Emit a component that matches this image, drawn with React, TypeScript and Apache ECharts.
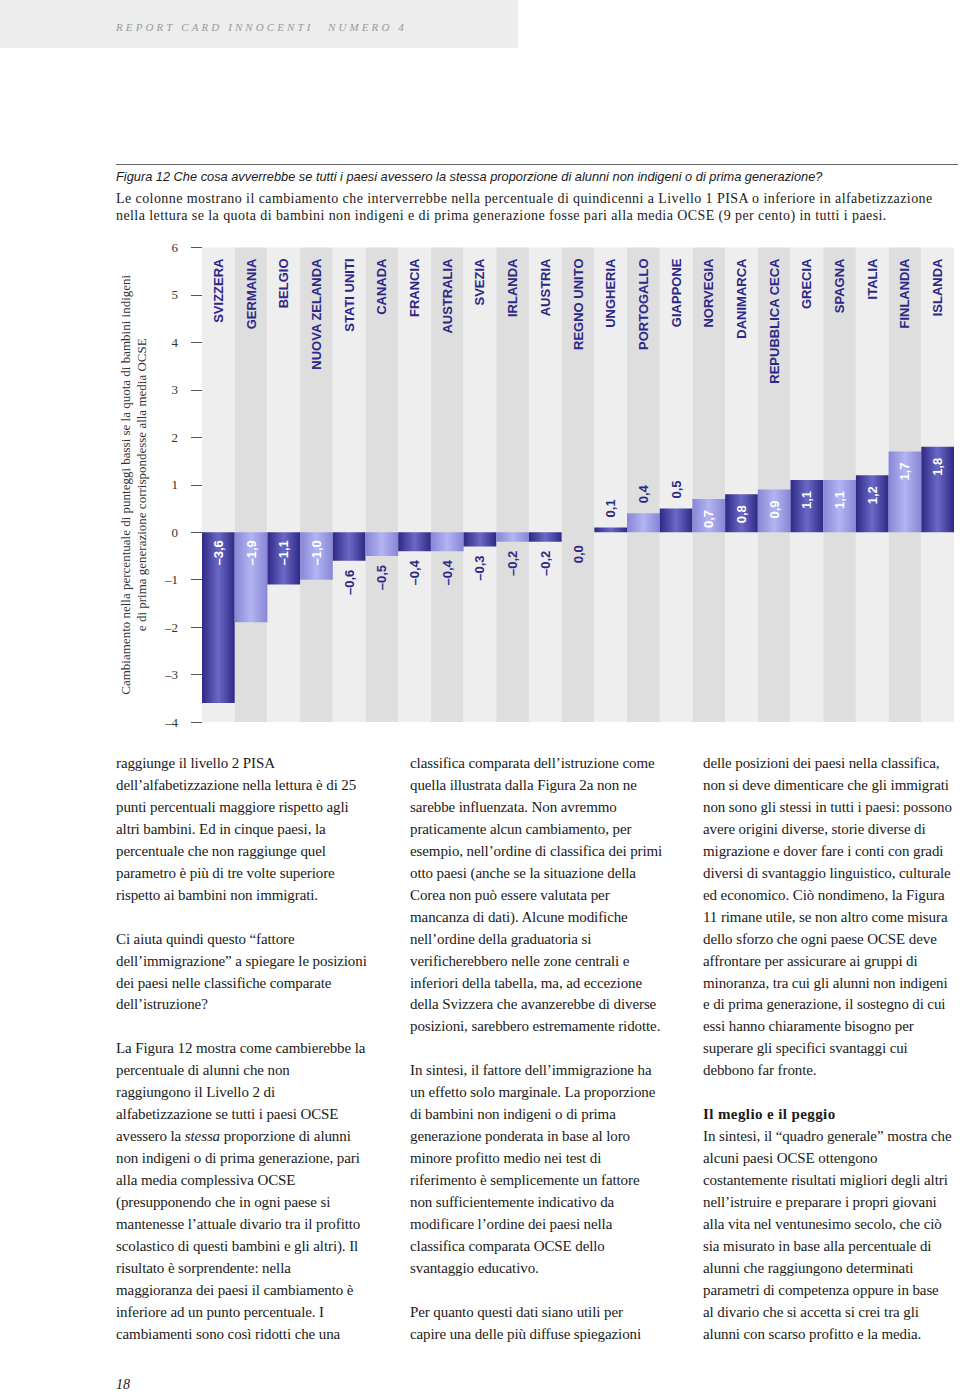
import React, { useEffect, useRef } from "react";
import * as echarts from "echarts";

const countries = [
  "SVIZZERA", "GERMANIA", "BELGIO", "NUOVA ZELANDA", "STATI UNITI", "CANADA",
  "FRANCIA", "AUSTRALIA", "SVEZIA", "IRLANDA", "AUSTRIA", "REGNO UNITO",
  "UNGHERIA", "PORTOGALLO", "GIAPPONE", "NORVEGIA", "DANIMARCA",
  "REPUBBLICA CECA", "GRECIA", "SPAGNA", "ITALIA", "FINLANDIA", "ISLANDA",
];
const values = [
  -3.6, -1.9, -1.1, -1.0, -0.6, -0.5, -0.4, -0.4, -0.3, -0.2, -0.2, 0.0,
  0.1, 0.4, 0.5, 0.7, 0.8, 0.9, 1.1, 1.1, 1.2, 1.7, 1.8,
];
const yMin = -4;
const yMax = 6;
const yStep = 1;

const yAxisTitle =
  "Cambiamento nella percentuale di punteggi bassi se la quota di bambini indigeni\ne di prima generazione corrispondesse alla media OCSE";

const headerLeft = "REPORT CARD INNOCENTI";
const headerRight = "NUMERO 4";
const figTitle =
  "Figura 12 Che cosa avverrebbe se tutti i paesi avessero la stessa proporzione di alunni non indigeni o di prima generazione?";
const figDesc = [
  "Le colonne mostrano il cambiamento che interverrebbe nella percentuale di quindicenni a Livello 1 PISA o inferiore in alfabetizzazione",
  "nella lettura se la quota di bambini non indigeni e di prima generazione fosse pari alla media OCSE (9 per cento) in tutti i paesi.",
];

const col1 = [
  "raggiunge il livello 2 PISA",
  "dell’alfabetizzazione nella lettura è di 25",
  "punti percentuali maggiore rispetto agli",
  "altri bambini. Ed in cinque paesi, la",
  "percentuale che non raggiunge quel",
  "parametro è più di tre volte superiore",
  "rispetto ai bambini non immigrati.",
  "",
  "Ci aiuta quindi questo “fattore",
  "dell’immigrazione” a spiegare le posizioni",
  "dei paesi nelle classifiche comparate",
  "dell’istruzione?",
  "",
  "La Figura 12 mostra come cambierebbe la",
  "percentuale di alunni che non",
  "raggiungono il Livello 2 di",
  "alfabetizzazione se tutti i paesi OCSE",
  "avessero la *stessa* proporzione di alunni",
  "non indigeni o di prima generazione, pari",
  "alla media complessiva OCSE",
  "(presupponendo che in ogni paese si",
  "mantenesse l’attuale divario tra il profitto",
  "scolastico di questi bambini e gli altri). Il",
  "risultato è sorprendente: nella",
  "maggioranza dei paesi il cambiamento è",
  "inferiore ad un punto percentuale. I",
  "cambiamenti sono così ridotti che una",
];
const col2 = [
  "classifica comparata dell’istruzione come",
  "quella illustrata dalla Figura 2a non ne",
  "sarebbe influenzata. Non avremmo",
  "praticamente alcun cambiamento, per",
  "esempio, nell’ordine di classifica dei primi",
  "otto paesi (anche se la situazione della",
  "Corea non può essere valutata per",
  "mancanza di dati). Alcune modifiche",
  "nell’ordine della graduatoria si",
  "verificherebbero nelle zone centrali e",
  "inferiori della tabella, ma, ad eccezione",
  "della Svizzera che avanzerebbe di diverse",
  "posizioni, sarebbero estremamente ridotte.",
  "",
  "In sintesi, il fattore dell’immigrazione ha",
  "un effetto solo marginale. La proporzione",
  "di bambini non indigeni o di prima",
  "generazione ponderata in base al loro",
  "minore profitto medio nei test di",
  "riferimento è semplicemente un fattore",
  "non sufficientemente indicativo da",
  "modificare l’ordine dei paesi nella",
  "classifica comparata OCSE dello",
  "svantaggio educativo.",
  "",
  "Per quanto questi dati siano utili per",
  "capire una delle più diffuse spiegazioni",
];
const col3 = [
  "delle posizioni dei paesi nella classifica,",
  "non si deve dimenticare che gli immigrati",
  "non sono gli stessi in tutti i paesi: possono",
  "avere origini diverse, storie diverse di",
  "migrazione e dover fare i conti con gradi",
  "diversi di svantaggio linguistico, culturale",
  "ed economico. Ciò nondimeno, la Figura",
  "11 rimane utile, se non altro come misura",
  "dello sforzo che ogni paese OCSE deve",
  "affrontare per assicurare ai gruppi di",
  "minoranza, tra cui gli alunni non indigeni",
  "e di prima generazione, il sostegno di cui",
  "essi hanno chiaramente bisogno per",
  "superare gli specifici svantaggi cui",
  "debbono far fronte.",
  "",
  "#Il meglio e il peggio",
  "In sintesi, il “quadro generale” mostra che",
  "alcuni paesi OCSE ottengono",
  "costantemente risultati migliori degli altri",
  "nell’istruire e preparare i propri giovani",
  "alla vita nel ventunesimo secolo, che ciò",
  "sia misurato in base alla percentuale di",
  "alunni che raggiungono determinati",
  "parametri di competenza oppure in base",
  "al divario che si accetta si crei tra gli",
  "alunni con scarso profitto e la media.",
];
const pageNumber = "18";

const NAVY = "#2d2888";
const SERIF = "'Liberation Serif', 'DejaVu Serif', serif";
const SANS = "'Liberation Sans', Arial, sans-serif";

function fmt(v: number): string {
  const s = Math.abs(v).toFixed(1).replace(".", ",");
  return v < 0 ? "–" + s : s;
}

function renderLine(line: string, i: number) {
  if (line === "") return <div key={i} style={{ height: 21.95 }}>{"\u00a0"}</div>;
  if (line.startsWith("#")) {
    return (
      <div key={i} style={{ fontWeight: "bold", letterSpacing: "0.4px" }}>
        {line.slice(1)}
      </div>
    );
  }
  const m = line.match(/^(.*)\*(.*)\*(.*)$/);
  if (m) {
    return (
      <div key={i}>
        {m[1]}
        <i>{m[2]}</i>
        {m[3]}
      </div>
    );
  }
  return <div key={i}>{line}</div>;
}

function Column({ lines, left }: { lines: string[]; left: number }) {
  return (
    <div
      style={{
        position: "absolute",
        left,
        top: 753,
        fontFamily: SERIF,
        fontSize: 15,
        lineHeight: "21.95px",
        color: "#1a1a1a",
        whiteSpace: "pre",
        letterSpacing: "-0.1px",
      }}
    >
      {lines.map(renderLine)}
    </div>
  );
}

function Chart() {
  const ref = useRef<HTMLDivElement>(null);
  useEffect(() => {
    if (!ref.current) return;
    const chart = echarts.init(ref.current, undefined, { renderer: "svg" });
    const dark = new echarts.graphic.LinearGradient(0, 0, 1, 0, [
      { offset: 0, color: "#2f2985" },
      { offset: 0.5, color: "#6b68c6" },
      { offset: 1, color: "#2f2985" },
    ]);
    const light = new echarts.graphic.LinearGradient(0, 0, 1, 0, [
      { offset: 0, color: "#8686d6" },
      { offset: 0.5, color: "#b3b4f2" },
      { offset: 1, color: "#8686d6" },
    ]);
    const data = values.map((v, i) => {
      const inside = Math.abs(v) >= 0.7;
      let position: string;
      let distance: number;
      let align: string;
      if (v < 0) {
        position = inside ? "insideTop" : "bottom";
        distance = inside ? 8 : 9;
        align = "right";
      } else if (v > 0) {
        position = inside ? "insideTop" : "top";
        distance = inside ? 11 : 10;
        align = inside ? "right" : "left";
      } else {
        position = "bottom";
        distance = 13;
        align = "right";
      }
      return {
        value: v,
        itemStyle: { color: i % 2 === 0 ? dark : light },
        label: {
          show: true,
          position,
          distance,
          rotate: 90,
          align,
          verticalAlign: "middle",
          color: inside ? "#ffffff" : NAVY,
          formatter: () => fmt(v),
        },
      };
    });
    chart.setOption({
      animation: false,
      grid: {
        left: 202,
        right: 6,
        top: 12.5,
        bottom: 13,
        containLabel: false,
        outerBoundsMode: "none",
      },
      xAxis: [
        {
          type: "category",
          data: countries,
          axisLine: { show: false },
          axisTick: { show: false },
          axisLabel: { show: false, interval: 0 },
          splitArea: {
            show: true,
            interval: 0,
            areaStyle: { color: ["#eeeeee", "#dedede"] },
          },
        },
        {
          type: "category",
          position: "top",
          data: countries,
          axisLine: { show: false },
          axisTick: { show: false },
          splitLine: { show: false },
          axisLabel: {
            show: true,
            inside: true,
            interval: 0,
            rotate: -90,
            margin: 11,
            align: "right",
            verticalAlign: "middle",
            color: NAVY,
            fontFamily: SANS,
            fontWeight: "bold",
            fontSize: 13,
          },
        },
      ],
      yAxis: {
        type: "value",
        min: yMin,
        max: yMax,
        interval: yStep,
        axisLine: { show: false },
        axisTick: { show: true, length: 11, lineStyle: { color: "#555555", width: 1 } },
        axisLabel: {
          margin: 24,
          color: "#333333",
          fontFamily: SERIF,
          fontSize: 13,
          formatter: (v: number) => (v < 0 ? "–" + Math.abs(v) : String(v)),
        },
        splitLine: { show: true, lineStyle: { color: "#ffffff", width: 1.5 } },
        name: yAxisTitle,
        nameLocation: "middle",
        nameRotate: 90,
        nameGap: 53,
        nameTextStyle: {
          fontFamily: SERIF,
          fontSize: 13,
          lineHeight: 16,
          color: "#333333",
          align: "center",
        },
      },
      series: [
        {
          type: "bar",
          xAxisIndex: 0,
          data,
          barWidth: "100%",
          barCategoryGap: 0,
          label: {
            fontFamily: SANS,
            fontWeight: "bold",
            fontSize: 13,
          },
        },
      ],
    });
    return () => chart.dispose();
  }, []);
  return (
    <div
      ref={ref}
      style={{ position: "absolute", left: 0, top: 235, width: 960, height: 500 }}
    />
  );
}

const headerStyle: React.CSSProperties = {
  position: "absolute",
  top: 19,
  fontFamily: SERIF,
  fontStyle: "italic",
  fontSize: 11,
  letterSpacing: "3.1px",
  color: "#9a9a9a",
  whiteSpace: "pre",
  lineHeight: "16px",
};

export default function App() {
  return (
    <div
      style={{
        position: "absolute",
        left: 0,
        top: 0,
        width: 960,
        height: 1392,
        background: "#ffffff",
        overflow: "hidden",
      }}
    >
      <div
        style={{
          position: "absolute",
          left: 0,
          top: 0,
          width: 518,
          height: 48,
          background: "#ededed",
        }}
      />
      <div style={{ ...headerStyle, left: 116 }}>{headerLeft}</div>
      <div style={{ ...headerStyle, left: 328 }}>{headerRight}</div>
      <div
        style={{
          position: "absolute",
          left: 116,
          top: 164,
          width: 842,
          height: 0,
          borderTop: "1.5px solid #666666",
        }}
      />
      <div
        style={{
          position: "absolute",
          left: 116,
          top: 169,
          fontFamily: SANS,
          fontStyle: "italic",
          fontSize: 12.8,
          lineHeight: "16px",
          color: "#1a1a1a",
          whiteSpace: "pre",
        }}
      >
        {figTitle}
      </div>
      <div
        style={{
          position: "absolute",
          left: 116,
          top: 190,
          fontFamily: SERIF,
          fontSize: 14,
          letterSpacing: "0.42px",
          lineHeight: "17px",
          color: "#1a1a1a",
          whiteSpace: "pre",
        }}
      >
        {figDesc.map((l, i) => (
          <div key={i}>{l}</div>
        ))}
      </div>
      <Chart />
      <Column lines={col1} left={116} />
      <Column lines={col2} left={410} />
      <Column lines={col3} left={703} />
      <div
        style={{
          position: "absolute",
          left: 116,
          top: 1376,
          fontFamily: SERIF,
          fontStyle: "italic",
          fontSize: 14,
          lineHeight: "18px",
          color: "#1a1a1a",
        }}
      >
        {pageNumber}
      </div>
    </div>
  );
}
